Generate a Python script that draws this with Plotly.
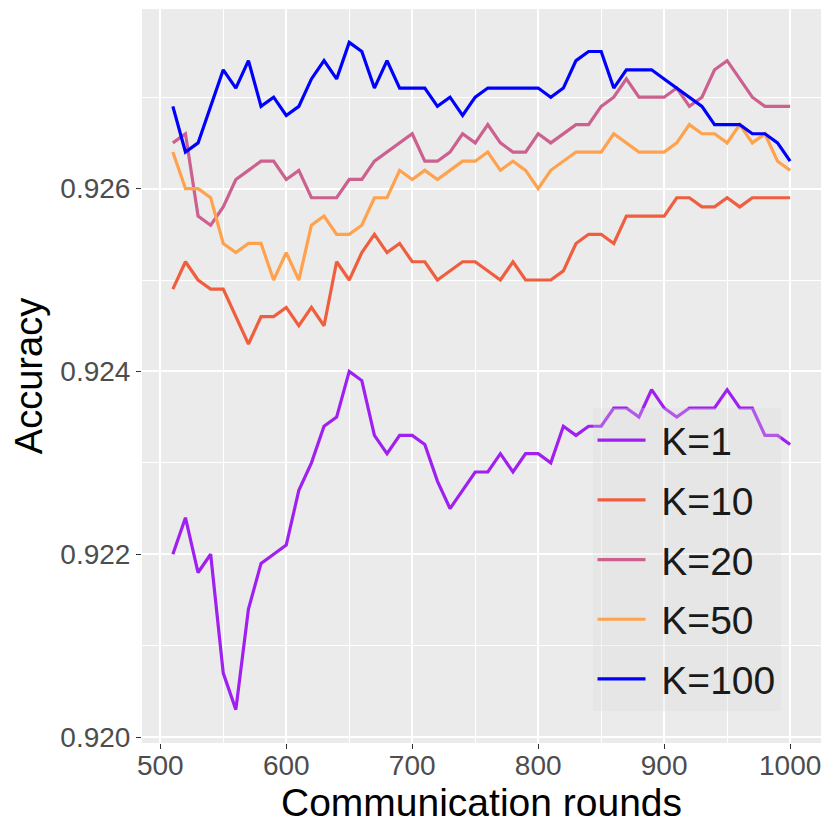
import plotly.graph_objects as go

# communication rounds 510..1000
rounds = [510, 520, 530, 540, 550, 560, 570, 580, 590, 600,
          610, 620, 630, 640, 650, 660, 670, 680, 690, 700,
          710, 720, 730, 740, 750, 760, 770, 780, 790, 800,
          810, 820, 830, 840, 850, 860, 870, 880, 890, 900,
          910, 920, 930, 940, 950, 960, 970, 980, 990, 1000]

acc_k1 = [0.9220, 0.9224, 0.9218, 0.9220, 0.9207, 0.9203, 0.9214, 0.9219, 0.9220, 0.9221,
          0.9227, 0.9230, 0.9234, 0.9235, 0.9240, 0.9239, 0.9233, 0.9231, 0.9233, 0.9233,
          0.9232, 0.9228, 0.9225, 0.9227, 0.9229, 0.9229, 0.9231, 0.9229, 0.9231, 0.9231,
          0.9230, 0.9234, 0.9233, 0.9234, 0.9234, 0.9236, 0.9236, 0.9235, 0.9238, 0.9236,
          0.9235, 0.9236, 0.9236, 0.9236, 0.9238, 0.9236, 0.9236, 0.9233, 0.9233, 0.9232]

acc_k10 = [0.9249, 0.9252, 0.9250, 0.9249, 0.9249, 0.9246, 0.9243, 0.9246, 0.9246, 0.9247,
           0.9245, 0.9247, 0.9245, 0.9252, 0.9250, 0.9253, 0.9255, 0.9253, 0.9254, 0.9252,
           0.9252, 0.9250, 0.9251, 0.9252, 0.9252, 0.9251, 0.9250, 0.9252, 0.9250, 0.9250,
           0.9250, 0.9251, 0.9254, 0.9255, 0.9255, 0.9254, 0.9257, 0.9257, 0.9257, 0.9257,
           0.9259, 0.9259, 0.9258, 0.9258, 0.9259, 0.9258, 0.9259, 0.9259, 0.9259, 0.9259]

acc_k20 = [0.9265, 0.9266, 0.9257, 0.9256, 0.9258, 0.9261, 0.9262, 0.9263, 0.9263, 0.9261,
           0.9262, 0.9259, 0.9259, 0.9259, 0.9261, 0.9261, 0.9263, 0.9264, 0.9265, 0.9266,
           0.9263, 0.9263, 0.9264, 0.9266, 0.9265, 0.9267, 0.9265, 0.9264, 0.9264, 0.9266,
           0.9265, 0.9266, 0.9267, 0.9267, 0.9269, 0.9270, 0.9272, 0.9270, 0.9270, 0.9270,
           0.9271, 0.9269, 0.9270, 0.9273, 0.9274, 0.9272, 0.9270, 0.9269, 0.9269, 0.9269]

acc_k50 = [0.9264, 0.9260, 0.9260, 0.9259, 0.9254, 0.9253, 0.9254, 0.9254, 0.9250, 0.9253,
           0.9250, 0.9256, 0.9257, 0.9255, 0.9255, 0.9256, 0.9259, 0.9259, 0.9262, 0.9261,
           0.9262, 0.9261, 0.9262, 0.9263, 0.9263, 0.9264, 0.9262, 0.9263, 0.9262, 0.9260,
           0.9262, 0.9263, 0.9264, 0.9264, 0.9264, 0.9266, 0.9265, 0.9264, 0.9264, 0.9264,
           0.9265, 0.9267, 0.9266, 0.9266, 0.9265, 0.9267, 0.9265, 0.9266, 0.9263, 0.9262]

acc_k100 = [0.9269, 0.9264, 0.9265, 0.9269, 0.9273, 0.9271, 0.9274, 0.9269, 0.9270, 0.9268,
            0.9269, 0.9272, 0.9274, 0.9272, 0.9276, 0.9275, 0.9271, 0.9274, 0.9271, 0.9271,
            0.9271, 0.9269, 0.9270, 0.9268, 0.9270, 0.9271, 0.9271, 0.9271, 0.9271, 0.9271,
            0.9270, 0.9271, 0.9274, 0.9275, 0.9275, 0.9271, 0.9273, 0.9273, 0.9273, 0.9272,
            0.9271, 0.9270, 0.9269, 0.9267, 0.9267, 0.9267, 0.9266, 0.9266, 0.9265, 0.9263]

labels = ["K=1", "K=10", "K=20", "K=50", "K=100"]
colors = ["#A020F0", "#EF5F3F", "#CC6190", "#FFA24D", "#0000FF"]
series = [acc_k1, acc_k10, acc_k20, acc_k50, acc_k100]

fig = go.Figure()
for name, col, ys in zip(labels, colors, series):
    # nbsp widens the gap between key line and label like ggplot does
    fig.add_trace(go.Scatter(x=rounds, y=ys, mode="lines", name="\u00a0" + name,
                             legendgroup=name, line=dict(color=col, width=3.2)))

axis_common = dict(
    showgrid=True, gridcolor="white", gridwidth=2,
    zeroline=False, showline=False,
    ticks="outside", ticklen=5, tickwidth=1.2, tickcolor="#333333",
    tickfont=dict(size=28, color="#4D4D4D"),
)

# the page body has an 8px margin, so the figure is 822px and shifted
fig.update_layout(
    width=822, height=822,
    margin=dict(l=134, r=9, t=1, b=87),
    paper_bgcolor="white", plot_bgcolor="#EBEBEB",
    font=dict(family="Liberation Sans, Arial, sans-serif", color="black"),
    xaxis=dict(range=[485.5, 1024.5], tickvals=[500, 600, 700, 800, 900, 1000],
               minor=dict(tickvals=[550, 650, 750, 850, 950], showgrid=True,
                          gridcolor="white", gridwidth=1, ticks=""),
               ticklabelstandoff=-8,
               title=dict(text="Communication rounds", font=dict(size=39), standoff=4),
               **axis_common),
    yaxis=dict(range=[0.919935, 0.927965], tickvals=[0.920, 0.922, 0.924, 0.926],
               tickformat=".3f",
               minor=dict(tickvals=[0.921, 0.923, 0.925, 0.927], showgrid=True,
                          gridcolor="white", gridwidth=1, ticks=""),
               title=dict(text="Accuracy", font=dict(size=38), standoff=14),
               **axis_common),
    legend=dict(x=0.6635, y=0.456, xanchor="left", yanchor="top",
                bgcolor="rgba(217,217,217,0.3)", borderwidth=0,
                font=dict(size=39, color="#1A1A1A"),
                itemwidth=48, tracegroupgap=6),
    showlegend=True,
)

fig.write_html("out.html")
